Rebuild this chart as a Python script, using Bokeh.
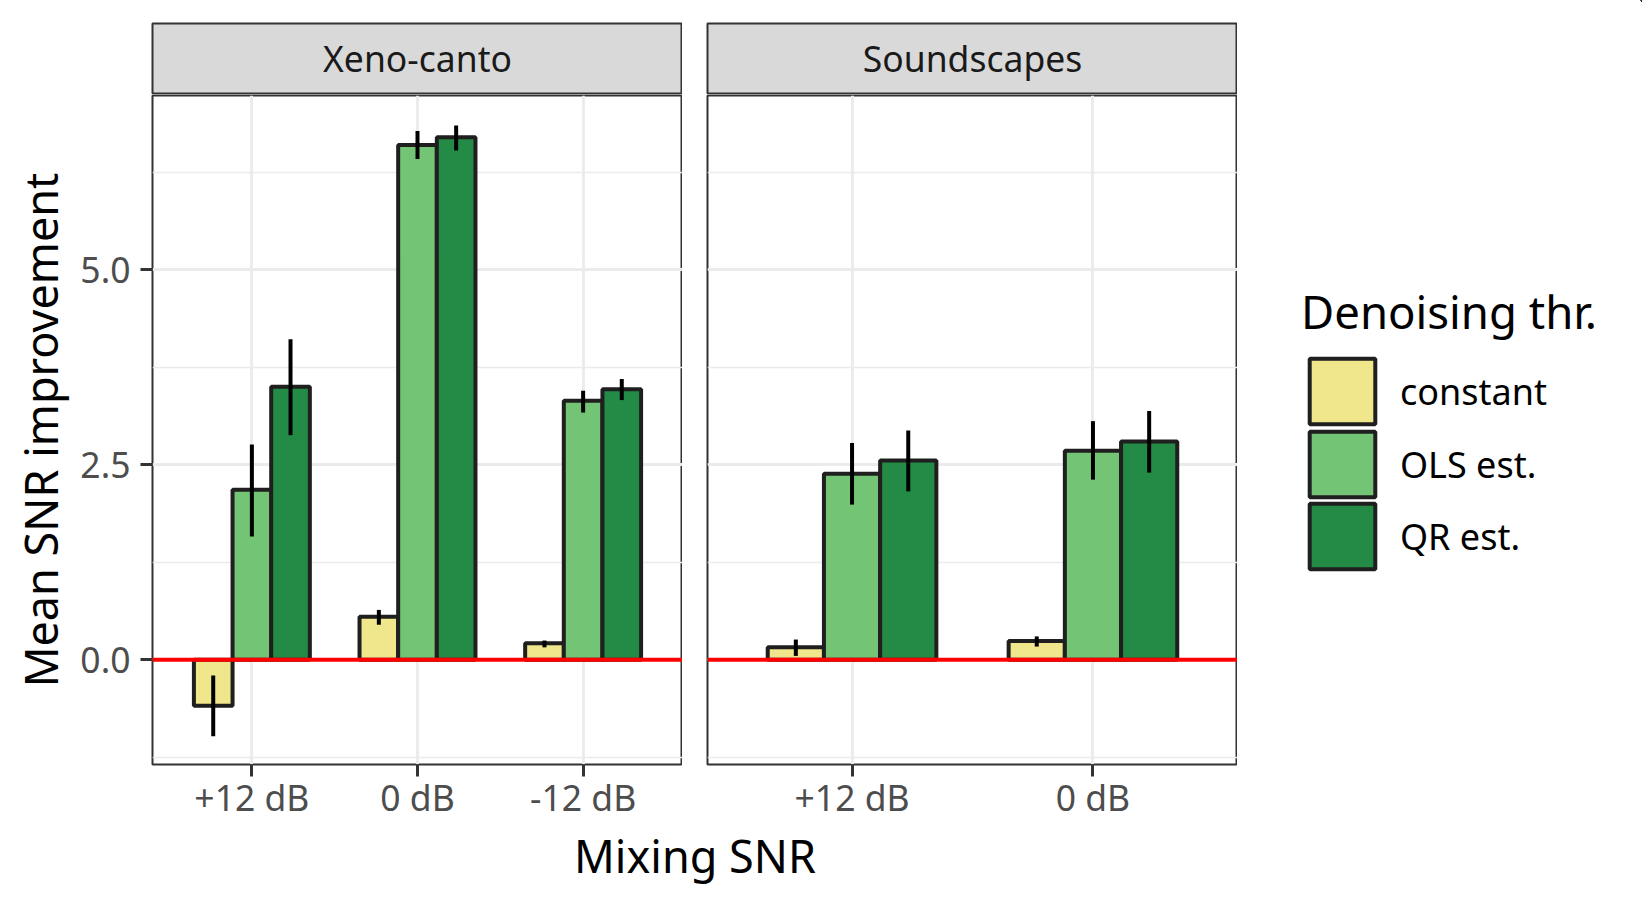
from bokeh.plotting import figure
from bokeh.layouts import row, column
from bokeh.models import (Range1d, FixedTicker, Span, Legend, LegendItem, Label,
                          Grid, PrintfTickFormatter, ColumnDataSource)
from bokeh.embed import file_html
from bokeh.resources import INLINE

# ---------------- data ----------------
thresholds = ["constant", "OLS est.", "QR est."]
colors = ["#F0E68C", "#74C476", "#238B45"]

xc_snr = ["+12 dB", "0 dB", "-12 dB"]
xc_mean_constant = [-0.59, 0.553, 0.213]
xc_lo_constant = [-0.98, 0.45, 0.16]
xc_hi_constant = [-0.20, 0.64, 0.247]
xc_mean_ols = [2.18, 6.60, 3.32]
xc_lo_ols = [1.58, 6.42, 3.17]
xc_hi_ols = [2.76, 6.78, 3.45]
xc_mean_qr = [3.50, 6.70, 3.47]
xc_lo_qr = [2.88, 6.53, 3.33]
xc_hi_qr = [4.11, 6.85, 3.60]

ss_snr = ["+12 dB", "0 dB"]
ss_mean_constant = [0.16, 0.24]
ss_lo_constant = [0.05, 0.17]
ss_hi_constant = [0.26, 0.30]
ss_mean_ols = [2.385, 2.68]
ss_lo_ols = [1.99, 2.31]
ss_hi_ols = [2.78, 3.06]
ss_mean_qr = [2.555, 2.80]
ss_lo_qr = [2.16, 2.40]
ss_hi_qr = [2.94, 3.19]

y_ticks = [0.0, 2.5, 5.0]
y_minor_ticks = [-1.25, 1.25, 3.75, 6.25]

FONT = "Noto Sans"
SMALL = "35.5px"
LARGE = "45px"
DODGE_WIDTH = 0.7
Y_RANGE = (-1.342, 7.235)
OUTLINE = "#1f1f1f"
BAR_W = DODGE_WIDTH / len(thresholds)
PANEL_H = 731


def series_sources(means, los, his, n):
    srcs = []
    for k, (m, lo, hi) in enumerate(zip(means, los, his)):
        xs = [i + 1 + (k - 1) * BAR_W for i in range(n)]
        srcs.append(ColumnDataSource(dict(x=xs, top=m, lo=lo, hi=hi)))
    return srcs


def make_panel(cats, srcs, width, left, right, show_y):
    n = len(cats)
    p = figure(width=width, height=PANEL_H,
               x_range=Range1d(0.4, n + 0.6), y_range=Range1d(*Y_RANGE),
               output_backend="svg", toolbar_location=None,
               min_border_left=left, min_border_right=right,
               min_border_top=1, min_border_bottom=PANEL_H - 670,
               y_axis_location="left" if show_y else None)
    p.background_fill_color = "white"
    p.border_fill_color = "white"
    p.outline_line_color = "#333333"
    p.outline_line_width = 2

    for k, src in enumerate(srcs):
        p.vbar(x="x", top="top", bottom=0, width=BAR_W, source=src,
               fill_color=colors[k], line_color=OUTLINE, line_width=4)
        p.segment(x0="x", y0="lo", x1="x", y1="hi", source=src,
                  line_color="black", line_width=4)

    p.add_layout(Span(location=0, dimension="width", line_color="#FF0000",
                      line_width=4))

    xa = p.xaxis[0]
    xa.ticker = FixedTicker(ticks=list(range(1, n + 1)))
    xa.major_label_overrides = {i + 1: c for i, c in enumerate(cats)}
    xa.major_label_text_font = FONT
    xa.major_label_text_font_size = SMALL
    xa.major_label_text_color = "#4D4D4D"
    xa.major_label_standoff = -4
    xa.axis_line_color = None
    xa.major_tick_out = 12
    xa.major_tick_in = 0
    xa.major_tick_line_color = "#333333"
    xa.major_tick_line_width = 3
    xa.minor_tick_line_color = None
    p.xgrid.grid_line_color = "#EBEBEB"
    p.xgrid.grid_line_width = 2.8

    if show_y:
        ya = p.yaxis[0]
        ya.ticker = FixedTicker(ticks=y_ticks, minor_ticks=y_minor_ticks)
        ya.formatter = PrintfTickFormatter(format="%.1f")
        ya.major_label_text_font = FONT
        ya.major_label_text_font_size = SMALL
        ya.major_label_text_color = "#4D4D4D"
        ya.major_label_standoff = 10
        ya.axis_line_color = None
        ya.major_tick_out = 12
        ya.major_tick_in = 0
        ya.major_tick_line_color = "#333333"
        ya.major_tick_line_width = 3
        ya.minor_tick_line_color = None
        ya.axis_label = "Mean SNR improvement"
        ya.axis_label_text_font = FONT
        ya.axis_label_text_font_size = LARGE
        ya.axis_label_text_font_style = "normal"
        ya.axis_label_text_color = "black"
        ya.axis_label_standoff = 6
        p.ygrid.grid_line_color = "#EBEBEB"
        p.ygrid.grid_line_width = 2.8
        p.ygrid.minor_grid_line_color = "#EBEBEB"
        p.ygrid.minor_grid_line_width = 1.5
    else:
        for g in p.ygrid:
            g.visible = False
        g = Grid(dimension=1, ticker=FixedTicker(ticks=y_ticks, minor_ticks=y_minor_ticks),
                 grid_line_color="#EBEBEB", grid_line_width=2.8,
                 minor_grid_line_color="#EBEBEB", minor_grid_line_width=1.5)
        p.add_layout(g, "center")
    return p


def make_strip(text, width, left, right):
    s = figure(width=width, height=94, x_range=Range1d(0, 1), y_range=Range1d(0, 1),
               output_backend="svg", toolbar_location=None,
               min_border_left=left, min_border_right=right,
               min_border_top=23, min_border_bottom=0,
               x_axis_location=None, y_axis_location=None)
    s.grid.visible = False
    s.background_fill_color = "#D9D9D9"
    s.border_fill_color = "white"
    s.outline_line_color = "#333333"
    s.outline_line_width = 2
    s.add_layout(Label(x=265, y=36.5, x_units="screen", y_units="screen", text=text,
                       text_align="center", text_baseline="middle",
                       text_font=FONT, text_font_size=SMALL, text_color="#1A1A1A"))
    return s


xc_srcs = series_sources([xc_mean_constant, xc_mean_ols, xc_mean_qr],
                         [xc_lo_constant, xc_lo_ols, xc_lo_qr],
                         [xc_hi_constant, xc_hi_ols, xc_hi_qr], len(xc_snr))
ss_srcs = series_sources([ss_mean_constant, ss_mean_ols, ss_mean_qr],
                         [ss_lo_constant, ss_lo_ols, ss_lo_qr],
                         [ss_hi_constant, ss_hi_ols, ss_hi_qr], len(ss_snr))

pA = make_panel(xc_snr, xc_srcs, width=682, left=152, right=0, show_y=True)
pB = make_panel(ss_snr, ss_srcs, width=555, left=25, right=0, show_y=False)

sA = make_strip("Xeno-canto", 682, 152, 0)
sB = make_strip("Soundscapes", 555, 25, 0)

ROW_H = 94 + PANEL_H
# legend figure: key renderers share the series data but sit outside its visible range
pL = figure(width=405, height=ROW_H, x_range=Range1d(-11, -10), y_range=Range1d(-11, -10),
            output_backend="svg", toolbar_location=None, min_border=0,
            x_axis_location=None, y_axis_location=None)
pL.grid.visible = False
pL.outline_line_color = None
leg_renderers = [pL.vbar(x="x", top="top", bottom=0, width=BAR_W, source=src,
                         fill_color=colors[k], line_color=OUTLINE, line_width=4)
                 for k, src in enumerate(ss_srcs)]

leg_common = dict(orientation="vertical",
                  label_text_font=FONT, label_text_font_size="36px", label_text_color="black",
                  label_standoff=17, glyph_width=82, glyph_height=82, spacing=0,
                  padding=0, margin=0, border_line_color=None, background_fill_alpha=0)
leg_centers = [391.3, 463.8, 535.7]   # page y of key centres
for k, (t, r) in enumerate(zip(thresholds, leg_renderers)):
    extra = {}
    if k == 0:
        extra = dict(title="Denoising thr.", title_text_font=FONT,
                     title_text_font_size="45.5px", title_text_font_style="normal",
                     title_text_color="black", title_standoff=8)
    pL.add_layout(Legend(items=[LegendItem(label=t, renderers=[r])],
                         location=(64, round(ROW_H - (leg_centers[k] + 41))),
                         **leg_common, **extra))

pt = figure(width=1642, height=68, x_range=Range1d(0, 1), y_range=Range1d(0, 1),
            output_backend="svg", toolbar_location=None, min_border=0,
            x_axis_location=None, y_axis_location=None)
pt.grid.visible = False
pt.outline_line_color = None
pt.add_layout(Label(x=694.5, y=68 - (855 - ROW_H), x_units="screen", y_units="screen",
                    text="Mixing SNR", text_align="center", text_baseline="middle",
                    text_font=FONT, text_font_size=LARGE, text_color="black"))

layout = column(row(column(sA, pA), column(sB, pB), pL), pt)

open("out.html", "w").write(file_html(layout, INLINE))
